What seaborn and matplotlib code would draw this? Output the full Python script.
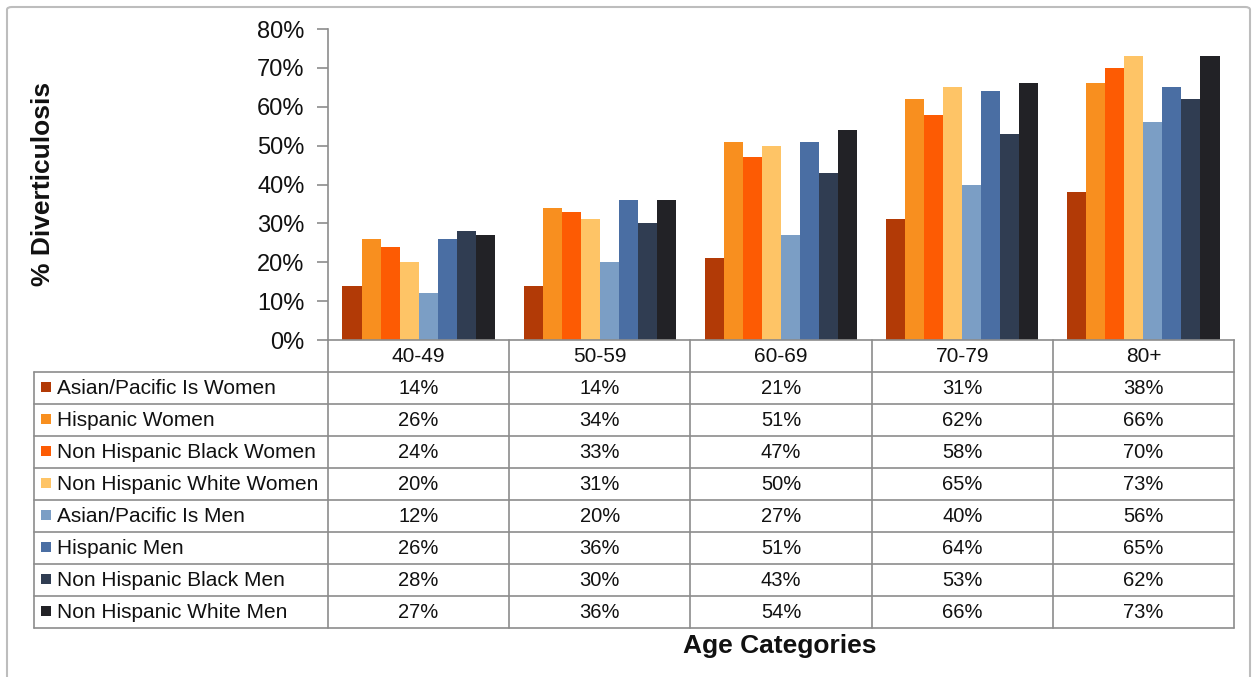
import matplotlib
matplotlib.use("Agg")
import matplotlib.pyplot as plt
import matplotlib.transforms as mtransforms
from matplotlib.lines import Line2D
from matplotlib.patches import Rectangle, FancyBboxPatch
from matplotlib.ticker import PercentFormatter, MultipleLocator
import seaborn as sns
import pandas as pd

# ---------------- data ----------------
age_categories = ["40-49", "50-59", "60-69", "70-79", "80+"]
groups = [
    "Asian/Pacific Is Women",
    "Hispanic Women",
    "Non Hispanic Black Women",
    "Non Hispanic White Women",
    "Asian/Pacific Is Men",
    "Hispanic Men",
    "Non Hispanic Black Men",
    "Non Hispanic White Men",
]
asian_women = [14, 14, 21, 31, 38]
hispanic_women = [26, 34, 51, 62, 66]
nh_black_women = [24, 33, 47, 58, 70]
nh_white_women = [20, 31, 50, 65, 73]
asian_men = [12, 20, 27, 40, 56]
hispanic_men = [26, 36, 51, 64, 65]
nh_black_men = [28, 30, 43, 53, 62]
nh_white_men = [27, 36, 54, 66, 73]
series = [asian_women, hispanic_women, nh_black_women, nh_white_women,
          asian_men, hispanic_men, nh_black_men, nh_white_men]
colors = ["#B23A06", "#F88F1F", "#FD5B03", "#FEC466",
          "#7B9EC5", "#4A6EA3", "#303D52", "#222226"]

rows = []
for g, vals in zip(groups, series):
    for a, v in zip(age_categories, vals):
        rows.append({"Age Categories": a, "group": g, "value": v})
df = pd.DataFrame(rows)

# ---------------- figure ----------------
sns.set_style("white")
plt.rcParams["font.family"] = ["Liberation Sans", "DejaVu Sans"]

W, H = 1257, 677
fig = plt.figure(figsize=(W / 100, H / 100), dpi=100)
fig.patch.set_facecolor("white")

def fx(x):
    return x / W

def fy(y):
    return 1 - y / H

ax_left, ax_right, ax_top, ax_bot = 328, 1234, 29, 340
ax = fig.add_axes([fx(ax_left), fy(ax_bot), fx(ax_right) - fx(ax_left), fy(ax_top) - fy(ax_bot)])

sns.barplot(data=df, x="Age Categories", y="value", hue="group", hue_order=groups,
            order=age_categories, palette=colors, width=0.84, saturation=1,
            linewidth=0, legend=False, ax=ax)

ax.set_xlim(-0.5, len(age_categories) - 0.5)
ax.set_ylim(0, 80)
ax.yaxis.set_major_locator(MultipleLocator(10))
ax.yaxis.set_major_formatter(PercentFormatter(xmax=100, decimals=0))
ax.set_xticks([])
ax.set_xlabel("")
ax.set_ylabel("")
for s in ["top", "right"]:
    ax.spines[s].set_visible(False)
gray = "#8C8C8C"
ax.spines["left"].set_color(gray)
ax.spines["bottom"].set_color(gray)
ax.spines["left"].set_linewidth(1.2)
ax.spines["bottom"].set_linewidth(1.2)
ax.tick_params(axis="y", which="major", direction="out", length=8, width=1.2,
               color=gray, labelsize=17, labelcolor="#111111", pad=9, left=True)

fig.text(fx(43), fy(184), "% Diverticulosis", rotation=90, ha="center", va="center",
         fontsize=19, fontweight="bold", color="#111111")

# ---------------- data table ----------------
tr = mtransforms.blended_transform_factory(ax.transData, fig.transFigure)
lbl_left = 34
header_top, header_bot = 340, 372
row_h = 32
n_rows = len(groups)
table_bot = header_bot + n_rows * row_h
line_kw = dict(color=gray, lw=1.2, clip_on=False)

# horizontal lines
for i in range(n_rows + 1):
    y = header_bot + i * row_h
    fig.add_artist(Line2D([fx(lbl_left), fx(ax_right)], [fy(y), fy(y)], transform=fig.transFigure, **line_kw))
# vertical lines
fig.add_artist(Line2D([fx(lbl_left), fx(lbl_left)], [fy(header_bot), fy(table_bot)], transform=fig.transFigure, **line_kw))
fig.add_artist(Line2D([fx(ax_left), fx(ax_left)], [fy(header_top), fy(table_bot)], transform=fig.transFigure, **line_kw))
for k in range(len(age_categories)):
    xb = k + 0.5
    fig.add_artist(Line2D([xb, xb], [fy(header_top), fy(table_bot)], transform=tr, **line_kw))

# header text
for k, a in enumerate(age_categories):
    fig.text(k, fy((header_top + header_bot) / 2 + 1), a, transform=tr, ha="center", va="center",
             fontsize=15, color="#111111")

# rows
for i, (g, vals, c) in enumerate(zip(groups, series, colors)):
    yc = header_bot + i * row_h + row_h / 2
    fig.add_artist(Rectangle((fx(41), fy(yc + 4)), fx(10), 10 / H, transform=fig.transFigure,
                             facecolor=c, edgecolor="none"))
    fig.text(fx(57), fy(yc + 1), g, ha="left", va="center", fontsize=15, color="#111111")
    for k, v in enumerate(vals):
        fig.text(k, fy(yc + 1), f"{v}%", transform=tr, ha="center", va="center",
                 fontsize=14.5, color="#111111")

fig.text(fx(780), fy(646), "Age Categories", ha="center", va="center",
         fontsize=19, fontweight="bold", color="#111111")

# outer frame
fig.add_artist(FancyBboxPatch((fx(7), fy(700)), fx(1250) - fx(7), fy(7) - fy(700),
                              boxstyle="round,pad=0,rounding_size=0.004",
                              transform=fig.transFigure, facecolor="none",
                              edgecolor="#BDBDBD", lw=1.5, clip_on=False))

fig.savefig("out.png", dpi=100)
